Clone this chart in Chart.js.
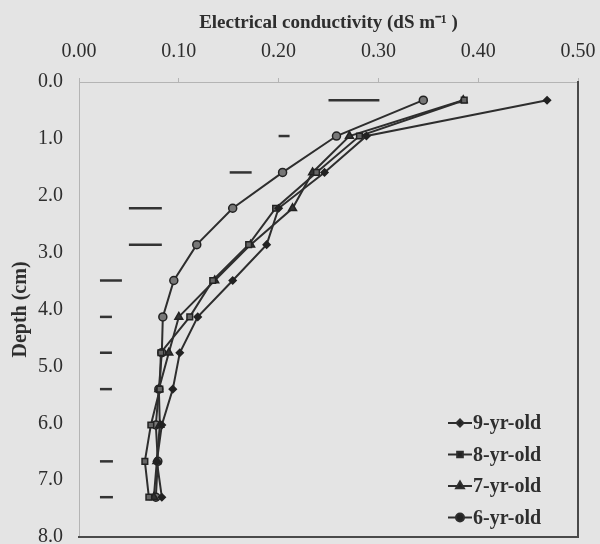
<!DOCTYPE html>
<html>
<head>
<meta charset="utf-8">
<script src="https://cdn.jsdelivr.net/npm/chart.js@4.4.0/dist/chart.umd.min.js"></script>
<style>
    html, body { margin: 0; padding: 0; background: #e4e4e4; }
</style>
</head>
<body>
<canvas id="myChart" width="600" height="544"></canvas>
<script>
// depth of each sampling layer (cm)
const depths = [0.32, 0.95, 1.59, 2.22, 2.86, 3.49, 4.13, 4.76, 5.40, 6.03, 6.67, 7.30];

// electrical conductivity (dS m-1) per stand age
const ec9yr = [0.469, 0.288, 0.246, 0.200, 0.188, 0.154, 0.119, 0.101, 0.094, 0.083, 0.078, 0.083];
const ec8yr = [0.386, 0.281, 0.238, 0.197, 0.170, 0.134, 0.111, 0.082, 0.081, 0.072, 0.066, 0.070];
const ec7yr = [0.385, 0.271, 0.234, 0.214, 0.172, 0.136, 0.100, 0.090, 0.080, 0.081, 0.078, 0.075];
const ec6yr = [0.345, 0.258, 0.204, 0.154, 0.118, 0.095, 0.084, 0.083, 0.080, 0.077, 0.079, 0.077];

// LSD bars
const lsdDepth = [0.32, 0.95, 1.59, 2.22, 2.86, 3.49, 4.13, 4.76, 5.40, 6.67, 7.30];
const lsdStart = [0.250, 0.200, 0.151, 0.050, 0.050, 0.021, 0.021, 0.021, 0.021, 0.021, 0.021];
const lsdEnd   = [0.301, 0.211, 0.173, 0.083, 0.083, 0.043, 0.033, 0.033, 0.033, 0.034, 0.034];

const xTicks = [0, 0.1, 0.2, 0.3, 0.4, 0.5];
const yTicks = [0, 1, 2, 3, 4, 5, 6, 7, 8];

const ink = "#2e2e2e";
const serif = "'Liberation Serif', 'Times New Roman', serif";

function series(label, values, style, radius, fill) {
    return {
        label: label,
        data: values.map((v, i) => ({ x: v, y: depths[i] })),
        borderColor: ink,
        borderWidth: 2,
        pointStyle: style,
        pointRadius: radius,
        pointBorderWidth: 1.5,
        pointBorderColor: "#222",
        pointBackgroundColor: fill,
        showLine: true,
        fill: false,
        tension: 0,
    };
}

const datasets = [
    series("9-yr-old", ec9yr, "rectRot", 3.5, "#222"),
    series("8-yr-old", ec8yr, "rect", 4, "#666"),
    series("7-yr-old", ec7yr, "triangle", 4.5, "#333"),
    series("6-yr-old", ec6yr, "circle", 4, "#777"),
];

lsdDepth.forEach((d, i) => {
    datasets.push({
        label: "lsd",
        data: [{ x: lsdStart[i], y: d }, { x: lsdEnd[i], y: d }],
        borderColor: "#333",
        borderWidth: 2.5,
        pointRadius: 0,
        showLine: true,
    });
});

// background colour of the scanned page
const bgPlugin = {
    id: "bg",
    beforeDraw(chart) {
        const c = chart.ctx;
        c.save();
        c.fillStyle = "#e4e4e4";
        c.fillRect(0, 0, chart.width, chart.height);
        c.restore();
    },
};

// legend sitting inside the lower right corner of the plot
const insideLegend = {
    id: "insideLegend",
    afterDraw(chart) {
        const c = chart.ctx;
        const area = chart.chartArea;
        const x0 = area.right - 130;
        let y = area.bottom - 114;
        c.save();
        c.font = "bold 20px " + serif;
        c.textBaseline = "middle";
        for (let i = 0; i < 4; i++) {
            const ds = chart.data.datasets[i];
            c.strokeStyle = ink;
            c.lineWidth = 2;
            c.beginPath();
            c.moveTo(x0, y);
            c.lineTo(x0 + 24, y);
            c.stroke();
            c.fillStyle = "#222";
            Chart.helpers.drawPoint(c, {
                pointStyle: ds.pointStyle,
                radius: ds.pointRadius,
                borderWidth: 1,
                rotation: 0,
            }, x0 + 12, y);
            c.fillStyle = ink;
            c.fillText(ds.label, x0 + 25, y + 1);
            y += 31.5;
        }
        c.restore();
    },
};

const ctx = document.getElementById("myChart");
new Chart(ctx, {
    type: "scatter",
    data: { datasets: datasets },
    plugins: [bgPlugin, insideLegend],
    options: {
        responsive: false,
        animation: false,
        layout: { padding: { left: 9, right: 22, top: 12, bottom: 7 } },
        plugins: {
            legend: { display: false },
            tooltip: { enabled: false },
        },
        scales: {
            x: {
                type: "linear",
                position: "top",
                min: 0,
                max: 0.5,
                afterBuildTicks: (axis) => { axis.ticks = xTicks.map(v => ({ value: v })); },
                afterFit: (axis) => { axis.height = 70; axis.paddingLeft = 0; axis.paddingRight = 0; },
                ticks: {
                    callback: (v) => v.toFixed(2),
                    color: ink,
                    font: { family: serif, size: 20 },
                    padding: 14,
                    maxRotation: 0,
                },
                grid: { drawOnChartArea: false, drawTicks: true, tickLength: 4, color: "#b4b4b4" },
                border: { color: "#b4b4b4", width: 1 },
                title: {
                    display: true,
                    text: "Electrical conductivity (dS m⁻¹ )",
                    color: ink,
                    font: { family: serif, size: 19, weight: "bold" },
                    padding: { top: 0, bottom: 0 },
                },
            },
            y: {
                type: "linear",
                reverse: true,
                min: 0,
                max: 8,
                afterBuildTicks: (axis) => { axis.ticks = yTicks.map(v => ({ value: v })); },
                afterFit: (axis) => { axis.width = 70; axis.paddingTop = 0; axis.paddingBottom = 0; },
                ticks: {
                    callback: (v) => v.toFixed(1),
                    color: ink,
                    font: { family: serif, size: 20 },
                    padding: 16,
                },
                grid: { drawOnChartArea: false, drawTicks: false },
                border: { color: "#b4b4b4", width: 1 },
                title: {
                    display: true,
                    text: "Depth (cm)",
                    color: ink,
                    font: { family: serif, size: 20, weight: "bold" },
                    padding: { top: 0, bottom: 0 },
                },
            },
            x2: {
                type: "linear",
                position: "bottom",
                min: 0,
                max: 0.5,
                afterFit: (axis) => { axis.height = 0; axis.paddingLeft = 0; axis.paddingRight = 0; },
                ticks: { display: false },
                grid: { drawOnChartArea: false, drawTicks: false },
                border: { color: "#4a4a4a", width: 2 },
            },
            y2: {
                type: "linear",
                position: "right",
                min: 0,
                max: 8,
                afterFit: (axis) => { axis.width = 0; axis.paddingTop = 0; axis.paddingBottom = 0; },
                ticks: { display: false },
                grid: { drawOnChartArea: false, drawTicks: false },
                border: { color: "#4a4a4a", width: 2 },
            },
        },
    },
});
</script>
</body>
</html>
